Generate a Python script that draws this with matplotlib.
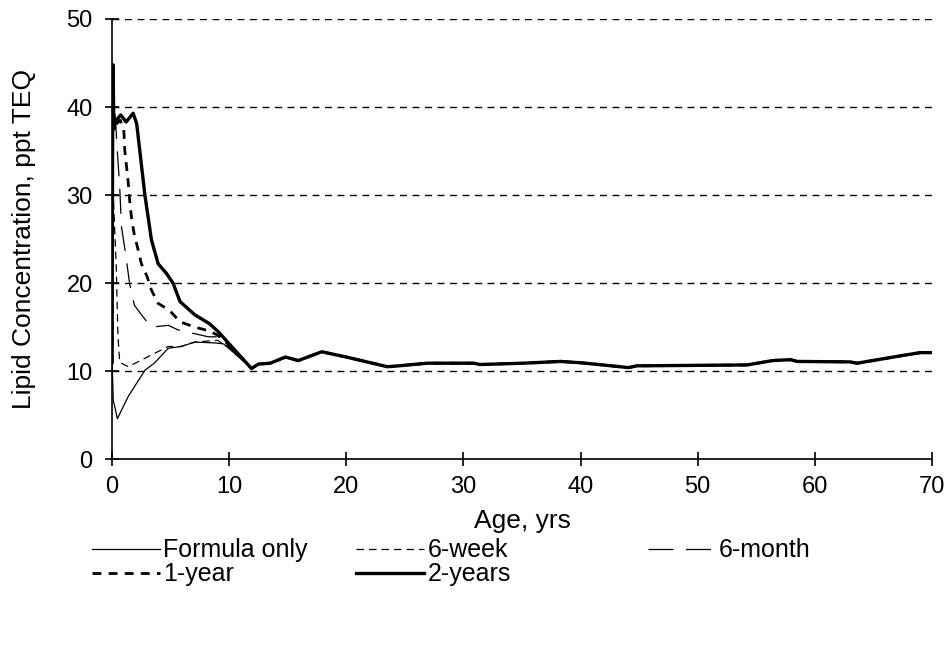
import numpy as np
import matplotlib
matplotlib.use("Agg")
import matplotlib.pyplot as plt
from matplotlib.lines import Line2D

plt.rcParams['font.family'] = ['Liberation Sans', 'DejaVu Sans']

# --- datos ---

# tramo comun a todas las curvas (despues de ~12 anos)
edad_comun = [11.9, 12.5, 13.5, 14.8, 15.9, 17.9, 20.0, 23.5, 24.5, 26.9, 30.9, 31.4,
              35.1, 38.3, 40.0, 41.9, 44.1, 44.8, 54.2, 56.4, 57.9, 58.5, 63.0, 63.6,
              67.6, 69.0, 70.0]
conc_comun = [10.3, 10.8, 10.9, 11.6, 11.2, 12.2, 11.6, 10.5, 10.6, 10.9, 10.9, 10.75,
              10.9, 11.1, 10.95, 10.7, 10.4, 10.6, 10.7, 11.2, 11.3, 11.1, 11.05, 10.9,
              11.8, 12.1, 12.1]

# tramo inicial de cada escenario
edad_formula = [0, 0.1, 0.45, 1.37, 2.8, 3.6, 4.8, 5.9, 7.06, 8.8, 9.5, 10.3]
conc_formula = [11, 6.7, 4.6, 7.1, 10.1, 10.9, 12.6, 12.8, 13.3, 13.2, 13.1, 12.2]

edad_6sem = [0, 0.04, 0.1, 0.35, 0.5, 0.65, 1.37, 2.5, 3.6, 4.8, 5.9, 7.06, 9.0, 10.3]
conc_6sem = [11, 40, 30, 22, 14, 11.0, 10.5, 11.25, 12.0, 12.8, 12.8, 13.3, 13.5, 12.4]

edad_6mes = [0, 0.05, 0.3, 0.4, 0.65, 0.8, 1.1, 1.5, 1.9, 2.5, 3.36, 4.8, 5.6, 6.9,
             8.2, 9.0, 10.3]
conc_6mes = [11, 40, 38.5, 35.9, 30.9, 26.4, 23.8, 19.9, 17.5, 16.4, 15.0, 15.2, 14.7,
             14.3, 13.9, 13.9, 12.3]

edad_1ano = [0, 0.05, 0.3, 0.7, 1.0, 1.08, 1.22, 1.37, 1.5, 1.65, 1.88, 2.2, 2.5, 3.0,
             3.36, 3.93, 4.9, 5.8, 7.06, 8.2, 9.0, 10.3]
conc_1ano = [11, 40, 38, 38.5, 37.4, 35.1, 33.4, 31.5, 29.4, 27.5, 25.6, 23.9, 22.2,
             20.7, 19.2, 17.7, 16.9, 15.6, 15.0, 14.6, 14.1, 12.6]

edad_2anos = [0, 0.05, 0.08, 0.15, 0.23, 0.74, 1.2, 1.8, 2.1, 2.8, 3.36, 3.93, 4.64,
              5.2, 5.8, 7.06, 8.3, 9.05, 10.2]
conc_2anos = [11, 40.5, 44.8, 37.5, 38.3, 39.1, 38.3, 39.3, 38.1, 30, 24.9, 22.2, 21.1,
              20, 17.9, 16.4, 15.4, 14.5, 12.8]

etiquetas = ['Formula only', '6-week', '6-month', '1-year', '2-years']


def unir(edad, conc):
    # agrega el tramo comun al tramo inicial
    return np.array(edad + edad_comun), np.array(conc + conc_comun)


# estilos de linea (ancho, patron de guiones)
estilos = {
    'Formula only': dict(lw=0.9, ls='-'),
    '6-week': dict(lw=0.9, ls=(0, (6, 4))),
    '6-month': dict(lw=0.9, ls=(0, (20, 10))),
    '1-year': dict(lw=2.0, ls=(0, (3.2, 2.6))),
    '2-years': dict(lw=2.4, ls='-'),
}

series = {
    'Formula only': unir(edad_formula, conc_formula),
    '6-week': unir(edad_6sem, conc_6sem),
    '6-month': unir(edad_6mes, conc_6mes),
    '1-year': unir(edad_1ano, conc_1ano),
    '2-years': unir(edad_2anos, conc_2anos),
}

fig = plt.figure(figsize=(9.5, 6.55), dpi=100)
ax = fig.add_axes([0.118, 0.299, 0.863, 0.672])

# cuadricula horizontal punteada
for yv in [10, 20, 30, 40, 50]:
    ax.axhline(yv, color='black', lw=1.0, ls=(0, (5, 4)), zorder=1)

for nombre in etiquetas:
    x, y = series[nombre]
    ax.plot(x, y, color='black', zorder=3, **estilos[nombre])

ax.set_xlim(0, 70)
ax.set_ylim(0, 50)
ax.set_xticks(range(0, 71, 10))
ax.set_yticks(range(0, 51, 10))
ax.spines['top'].set_visible(False)
ax.spines['right'].set_visible(False)
for s in ['left', 'bottom']:
    ax.spines[s].set_linewidth(1.2)
ax.tick_params(direction='inout', length=10, width=1.2, labelsize=17, pad=7)
ax.tick_params(axis='y', pad=9)

ax.set_xlabel('Age, yrs', fontsize=19, labelpad=8)
ax.set_ylabel('Lipid Concentration, ppt TEQ', fontsize=19, labelpad=22)

# leyenda en tres columnas de ancho fijo
def manija(nombre):
    return Line2D([], [], color='black', **estilos[nombre])

columnas = [(['Formula only', '1-year'], 0.097),
            (['6-week', '2-years'], 0.375),
            (['6-month'], 0.682)]
for nombres, xpos in columnas:
    fig.legend([manija(n) for n in nombres], nombres, loc='upper left',
               bbox_to_anchor=(xpos, 0.178), frameon=False, fontsize=18,
               handlelength=2.7, handletextpad=0.15, labelspacing=0.0,
               borderaxespad=0, borderpad=0)

plt.savefig('out.png', dpi=100)
plt.close()
